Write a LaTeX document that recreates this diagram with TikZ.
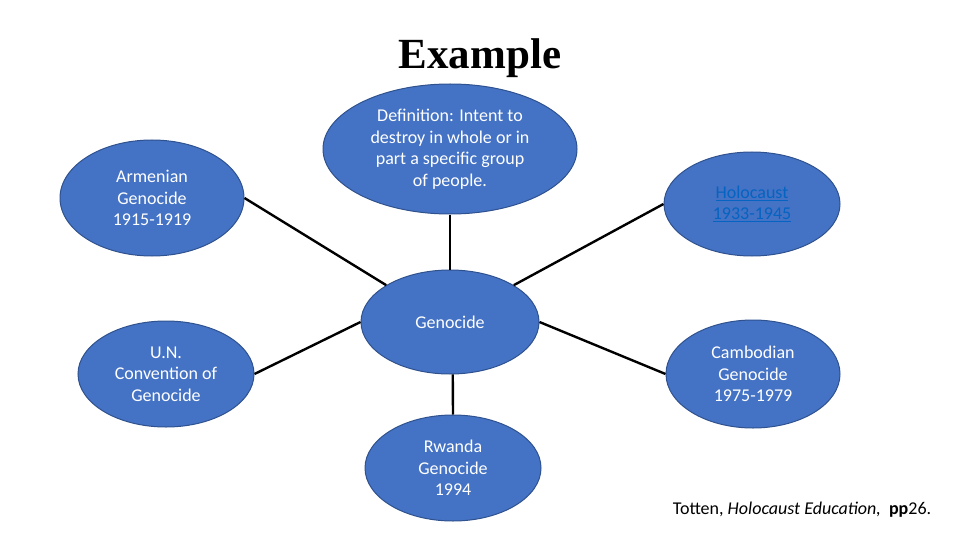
\documentclass[tikz,border=0pt]{standalone}
\usepackage{fontspec}
\setmainfont{Carlito}
\newfontfamily\titelfont{Liberation Serif}
\usetikzlibrary{shapes.geometric}
\definecolor{blaufuell}{HTML}{4472C4}
\definecolor{blaurand}{HTML}{2F528F}
\definecolor{linkblau}{HTML}{0563C1}
\begin{document}
\begin{tikzpicture}
		[
		x=1pt, y=-1pt, font=\fontsize{18}{21.5}\selectfont,
		%Voreinstellung für Ellipsen und Linien
		blase/.style={ellipse, draw=blaurand, line width=1pt, fill=blaufuell, text=white, align=center, inner sep=0pt},
		linie/.style={line width=2.4pt, black}
		]
		
		%Rahmen
		\useasboundingbox (0,0) rectangle (960,540);
		
		%Überschrift
		\node (titel) at (480,58) {\titelfont\bfseries\fontsize{43}{45}\selectfont Example};
		
		%Ellipsen
		\node[blase, minimum width=254, minimum height=130] (def) at (450,149) {Definition: Intent to\\destroy in whole or in\\part a specific group\\of people.};
		\node[blase, minimum width=178, minimum height=104] (gen) at (450,322) {Genocide};
		\node[blase, minimum width=184, minimum height=116] (arm) at (152,198) {Armenian\\Genocide\\1915-1919};
		\node[blase, minimum width=176, minimum height=104, text=linkblau] (hol) at (752,204) {\underline{Holocaust}\\\underline{1933-1945}};
		\node[blase, minimum width=176, minimum height=106] (un) at (166,374) {U.N.\\Convention of\\Genocide};
		\node[blase, minimum width=174, minimum height=108] (kam) at (753,374) {Cambodian\\Genocide\\1975-1979};
		\node[blase, minimum width=176, minimum height=106] (rwa) at (453,468) {Rwanda\\Genocide\\1994};
		
		%Verbindungen
		\draw[linie] (def.south) -- (gen.north);
		\draw[linie] (arm.east) -- (gen.150);
		\draw[linie] (hol.west) -- (gen.30);
		\draw[linie] (un.east) -- (gen.west);
		\draw[linie] (kam.west) -- (gen.east);
		\draw[linie] (rwa.north) -- (gen.-87);
		
		%Quelle
		\node (quelle) at (802,510) {Totten, \textit{Holocaust Education,}\ \ \textbf{pp}26.};
	\end{tikzpicture}
\end{document}
